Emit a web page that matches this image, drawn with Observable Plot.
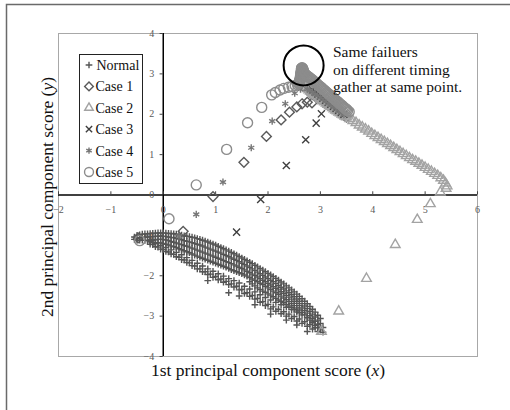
<!DOCTYPE html>
<html>
<head>
<meta charset="utf-8">
<script src="https://cdn.jsdelivr.net/npm/d3@7"></script>
<script src="https://cdn.jsdelivr.net/npm/@observablehq/plot@0.6"></script>
<style>
  html, body { margin: 0; padding: 0; background: #fff; }
  #wrap { position: relative; width: 510px; height: 410px; overflow: hidden; background: #fff; }
  #wrap > svg { position: absolute; left: 0; top: 0; }
  #overlay { pointer-events: none; }
</style>
</head>
<body>
<div id="wrap"></div>
<script>
// ---------------- data ----------------
const seriesNames = ["Normal", "Case 1", "Case 2", "Case 3", "Case 4", "Case 5"];
const xTicks = [-2, -1, 0, 1, 2, 3, 4, 5, 6];
const yTicks = [-4, -3, -2, -1, 0, 1, 2, 3, 4];
const xTitle = "1st principal component score (";
const yTitle = "2nd principal component score (";
const noteText = "Same failuers\non different timing\ngather at same point.";

const normalUpper = [
  [-0.55, -1.04, -1.1],
  [-0.5, -1.0, -1.07, -1.12],
  [-0.45, -0.99, -1.06, -1.12],
  [-0.4, -0.97, -1.05, -1.12],
  [-0.35, -0.965, -1.045, -1.125],
  [-0.3, -0.96, -1.04, -1.13],
  [-0.25, -0.955, -1.035, -1.11, -1.16],
  [-0.2, -0.95, -1.03, -1.12, -1.18],
  [-0.15, -0.945, -1.025, -1.11, -1.18],
  [-0.1, -0.94, -1.02, -1.1, -1.18],
  [-0.05, -0.94, -1.02, -1.1, -1.19],
  [0.0, -0.94, -1.02, -1.1, -1.2],
  [0.05, -0.945, -1.03, -1.115, -1.22],
  [0.1, -0.95, -1.04, -1.13, -1.24],
  [0.15, -0.955, -1.05, -1.15, -1.26],
  [0.2, -0.96, -1.06, -1.17, -1.28],
  [0.25, -0.97, -1.075, -1.19, -1.3],
  [0.3, -0.98, -1.09, -1.21, -1.33],
  [0.35, -0.995, -1.11, -1.23, -1.355],
  [0.4, -1.01, -1.13, -1.25, -1.38],
  [0.45, -1.02, -1.145, -1.27, -1.405],
  [0.5, -1.03, -1.16, -1.29, -1.43],
  [0.55, -1.045, -1.18, -1.315, -1.46],
  [0.6, -1.06, -1.2, -1.34, -1.49],
  [0.65, -1.08, -1.22, -1.365, -1.515],
  [0.7, -1.1, -1.24, -1.39, -1.54],
  [0.75, -1.12, -1.265, -1.415, -1.565],
  [0.8, -1.14, -1.29, -1.44, -1.59],
  [0.85, -1.165, -1.315, -1.465, -1.615],
  [0.9, -1.19, -1.34, -1.49, -1.64],
  [0.95, -1.215, -1.365, -1.515, -1.665],
  [1.0, -1.24, -1.39, -1.54, -1.69],
  [1.05, -1.27, -1.415, -1.565, -1.715],
  [1.1, -1.3, -1.44, -1.59, -1.74],
  [1.15, -1.33, -1.47, -1.62, -1.765],
  [1.2, -1.36, -1.5, -1.65, -1.79],
  [1.25, -1.39, -1.53, -1.675, -1.82],
  [1.3, -1.42, -1.56, -1.7, -1.85],
  [1.35, -1.455, -1.59, -1.73, -1.875],
  [1.4, -1.49, -1.62, -1.76, -1.9],
  [1.45, -1.525, -1.655, -1.79, -1.925],
  [1.5, -1.56, -1.69, -1.82, -1.95],
  [1.55, -1.595, -1.725, -1.855, -1.98],
  [1.6, -1.63, -1.76, -1.89, -2.01],
  [1.65, -1.665, -1.795, -1.925, -2.045, -2.15],
  [1.7, -1.7, -1.83, -1.96, -2.08, -2.2],
  [1.75, -1.74, -1.87, -1.995, -2.115, -2.25],
  [1.8, -1.78, -1.91, -2.03, -2.15, -2.3],
  [1.85, -1.82, -1.95, -2.07, -2.185, -2.34],
  [1.9, -1.86, -1.99, -2.11, -2.22, -2.38],
  [1.95, -1.9, -2.03, -2.15, -2.26, -2.41],
  [2.0, -1.94, -2.07, -2.19, -2.3, -2.45],
  [2.05, -1.98, -2.11, -2.23, -2.34, -2.48],
  [2.1, -2.02, -2.15, -2.27, -2.38, -2.52],
  [2.15, -2.065, -2.195, -2.31, -2.42, -2.56],
  [2.2, -2.11, -2.24, -2.35, -2.46, -2.6],
  [2.25, -2.155, -2.285, -2.395, -2.505, -2.63],
  [2.3, -2.2, -2.33, -2.44, -2.55, -2.67],
  [2.35, -2.25, -2.375, -2.485, -2.595, -2.71],
  [2.4, -2.3, -2.42, -2.53, -2.64, -2.75],
  [2.45, -2.35, -2.47, -2.58, -2.69, -2.79],
  [2.5, -2.4, -2.52, -2.63, -2.74, -2.83],
  [2.55, -2.455, -2.575, -2.685, -2.795, -2.87],
  [2.6, -2.51, -2.63, -2.74, -2.85, -2.92],
  [2.65, -2.57, -2.69, -2.8, -2.91],
  [2.7, -2.63, -2.75, -2.86, -2.97],
  [2.75, -2.695, -2.815, -2.925, -3.035],
  [2.8, -2.76, -2.88, -2.99, -3.1],
  [2.85, -2.83, -2.95, -3.06, -3.165],
  [2.9, -2.9, -3.02, -3.13, -3.23],
  [2.95, -2.98, -3.1, -3.205, -3.29],
  [3.0, -3.06, -3.18, -3.28]
];
const normalLower = [
  [-0.25, -1.15, -1.22],
  [-0.2, -1.23],
  [-0.15, -1.2, -1.28],
  [-0.1, -1.29],
  [-0.05, -1.25, -1.34],
  [0.0, -1.35],
  [0.05, -1.3, -1.4],
  [0.1, -1.41],
  [0.15, -1.36, -1.46],
  [0.2, -1.47],
  [0.25, -1.42, -1.53],
  [0.3, -1.54],
  [0.35, -1.48, -1.6],
  [0.4, -1.61],
  [0.45, -1.55, -1.67],
  [0.5, -1.68],
  [0.55, -1.62, -1.75],
  [0.6, -1.76],
  [0.65, -1.69, -1.83],
  [0.7, -1.83],
  [0.75, -1.76, -1.9],
  [0.8, -1.9],
  [0.85, -1.83, -1.97, -2.12],
  [0.9, -1.96],
  [0.95, -1.89, -2.04],
  [1.0, -2.02],
  [1.05, -1.95, -2.1],
  [1.1, -2.08],
  [1.15, -2.01, -2.16],
  [1.2, -2.14],
  [1.25, -2.07, -2.22, -2.42],
  [1.3, -2.2],
  [1.35, -2.12, -2.28],
  [1.4, -2.26],
  [1.45, -2.18, -2.35, -2.5],
  [1.5, -2.34],
  [1.55, -2.26, -2.44],
  [1.6, -2.42],
  [1.65, -2.33, -2.51],
  [1.7, -2.49],
  [1.75, -2.4, -2.58, -2.72],
  [1.8, -2.56],
  [1.85, -2.47, -2.66],
  [1.9, -2.64],
  [1.95, -2.54, -2.74],
  [2.0, -2.71],
  [2.05, -2.6, -2.82, -2.95],
  [2.1, -2.77],
  [2.15, -2.66, -2.88],
  [2.2, -2.83],
  [2.25, -2.72, -2.94],
  [2.3, -2.89],
  [2.35, -2.78, -3.0, -3.1],
  [2.4, -2.95],
  [2.45, -2.84, -3.06],
  [2.5, -3.01],
  [2.55, -2.9, -3.12, -3.22],
  [2.6, -3.07],
  [2.65, -2.97, -3.18],
  [2.7, -3.14],
  [2.75, -3.04, -3.25, -3.38],
  [2.8, -3.21],
  [2.85, -3.12, -3.32],
  [2.9, -3.28],
  [2.95, -3.2, -3.38],
  [3.0, -3.34],
  [3.05, -3.28, -3.4]
];
const case1 = [
  [-0.48, -1.06], [0.38, -0.9], [0.95, -0.04], [1.54, 0.81], [1.97, 1.45], [2.25, 1.86], [2.41, 2.05],
  [2.55, 2.18], [2.65, 2.26], [2.75, 2.3], [2.84, 2.28],
  [2.78, 2.6], [2.8, 2.55], [2.83, 2.52], [2.85, 2.5], [2.88, 2.48], [2.9, 2.46], [2.93, 2.44],
  [2.95, 2.42], [2.98, 2.4], [3.0, 2.38], [3.03, 2.35], [3.05, 2.33], [3.08, 2.31], [3.1, 2.29],
  [3.13, 2.26], [3.15, 2.24], [3.18, 2.22], [3.2, 2.2], [3.23, 2.17], [3.25, 2.15], [3.28, 2.12],
  [3.3, 2.1], [3.33, 2.08], [3.35, 2.06], [3.38, 2.03], [3.4, 2.01], [3.45, 1.97], [3.5, 1.93]
];
const case2 = [
  [2.72, 2.66], [2.75, 2.63], [2.78, 2.6], [2.81, 2.57], [2.84, 2.54], [2.87, 2.51], [2.9, 2.48],
  [2.93, 2.45], [2.96, 2.42], [2.99, 2.39], [3.02, 2.36], [3.05, 2.33], [3.08, 2.3], [3.11, 2.27],
  [3.14, 2.24], [3.17, 2.21], [3.2, 2.19], [3.23, 2.16], [3.26, 2.13], [3.29, 2.1], [3.32, 2.08],
  [3.35, 2.05], [3.38, 2.03], [3.41, 2.0], [3.44, 1.98], [3.47, 1.95], [3.5, 1.93],
  [3.56, 1.89], [3.62, 1.84], [3.68, 1.79], [3.74, 1.73], [3.8, 1.68], [3.86, 1.63], [3.92, 1.58],
  [3.98, 1.52], [4.04, 1.47], [4.1, 1.42], [4.16, 1.37], [4.22, 1.32], [4.28, 1.27], [4.34, 1.22],
  [4.4, 1.17], [4.46, 1.12], [4.52, 1.07], [4.58, 1.02], [4.64, 0.97], [4.7, 0.92], [4.76, 0.87],
  [4.82, 0.83], [4.88, 0.78], [4.94, 0.73], [5.0, 0.68], [5.06, 0.63], [5.12, 0.58], [5.18, 0.53],
  [5.24, 0.48], [5.3, 0.42], [5.35, 0.36], [5.39, 0.29], [5.42, 0.22], [5.4, 0.16],
  [5.29, 0.07], [5.1, -0.22], [4.85, -0.61], [4.43, -1.23], [3.88, -2.07], [3.35, -2.88], [3.02, -3.38]
];
const case3 = [
  [1.4, -0.92], [1.86, -0.11], [2.35, 0.73], [2.72, 1.37], [2.92, 1.78], [3.02, 2.01],
  [2.85, 2.6], [2.9, 2.55], [2.95, 2.5], [3.0, 2.45], [3.05, 2.4], [3.1, 2.35], [3.15, 2.3],
  [3.2, 2.25], [3.25, 2.2], [3.3, 2.15], [3.35, 2.1], [3.4, 2.05], [3.45, 2.0]
];
const case4 = [
  [0.3, -1.02], [0.63, -0.48], [1.14, 0.32], [1.68, 1.17], [2.08, 1.83], [2.33, 2.26], [2.51, 2.52],
  [2.62, 2.62], [2.75, 2.62], [2.8, 2.59], [2.85, 2.55], [2.9, 2.5], [2.95, 2.46], [3.0, 2.42],
  [3.05, 2.37], [3.1, 2.32], [3.15, 2.27], [3.2, 2.23], [3.25, 2.18], [3.3, 2.13], [3.35, 2.08],
  [3.4, 2.04], [3.45, 1.99]
];
const case5 = [
  [-0.45, -1.13], [0.11, -0.59], [0.63, 0.25], [1.21, 1.13], [1.61, 1.79], [1.88, 2.17], [2.07, 2.48],
  [2.14, 2.54], [2.23, 2.6], [2.3, 2.64], [2.39, 2.67], [2.46, 2.69], [2.52, 2.71],
  [2.56, 2.74], [2.58, 2.76], [2.59, 2.78], [2.6, 2.8], [2.6, 2.82], [2.61, 2.84], [2.61, 2.86],
  [2.62, 2.88], [2.62, 2.9], [2.62, 2.92], [2.62, 2.94], [2.63, 2.96], [2.63, 2.98], [2.63, 3.0],
  [2.63, 3.02], [2.63, 3.04], [2.64, 3.06], [2.64, 3.08], [2.64, 3.1], [2.64, 3.11], [2.64, 3.13],
  [2.64, 3.14], [2.65, 3.15], [2.66, 3.14], [2.66, 3.12], [2.67, 3.1], [2.67, 3.08], [2.68, 3.06],
  [2.68, 3.04], [2.69, 3.02], [2.7, 3.0], [2.72, 2.98], [2.74, 2.96], [2.76, 2.94], [2.78, 2.92],
  [2.8, 2.9], [2.82, 2.88], [2.84, 2.86], [2.86, 2.84], [2.88, 2.81], [2.9, 2.79], [2.92, 2.77],
  [2.94, 2.75], [2.96, 2.72], [2.98, 2.7], [3.0, 2.68], [3.02, 2.66], [3.04, 2.63], [3.06, 2.61],
  [3.08, 2.59], [3.1, 2.57], [3.12, 2.54], [3.14, 2.52], [3.16, 2.5], [3.18, 2.48], [3.2, 2.45],
  [3.22, 2.43], [3.24, 2.41], [3.26, 2.39], [3.28, 2.36], [3.3, 2.34], [3.32, 2.32], [3.34, 2.3],
  [3.36, 2.27], [3.38, 2.25], [3.4, 2.23], [3.42, 2.21], [3.44, 2.18], [3.46, 2.16], [3.48, 2.14],
  [3.5, 2.12], [3.52, 2.09], [3.55, 2.06]
];
const note = {x: 2.68, y: 3.21, tx: 3.24, ty: 3.72};

// ---------------- styles ----------------
const styles = {
  "Normal": {symbol: "plus", r: 2.3, stroke: "#555555", sw: 1.4, d3s: d3.symbolPlus},
  "Case 1": {symbol: "diamond2", r: 4.4, stroke: "#5a5a5a", sw: 1.4, d3s: d3.symbolDiamond2},
  "Case 2": {symbol: "triangle2", r: 4.6, stroke: "#a3a3a3", sw: 1.4, d3s: d3.symbolTriangle2},
  "Case 3": {symbol: "times", r: 3.3, stroke: "#3f3f3f", sw: 1.4, d3s: d3.symbolTimes},
  "Case 4": {symbol: "asterisk", r: 3.3, stroke: "#777777", sw: 1.4, d3s: d3.symbolAsterisk},
  "Case 5": {symbol: "circle", r: 5, stroke: "#8c8c8c", sw: 1.4, d3s: d3.symbolCircle}
};

const normal = [...normalUpper, ...normalLower].flatMap(([x, ...ys]) => ys.map(y => [x, y]));
const seriesData = [normal, case1, case2, case3, case4, case5];
const fmt = d => (d < 0 ? "\u2212" + (-d) : String(d));
const font = "'Liberation Serif', 'Times New Roman', serif";

const dotMarks = seriesNames.map((name, i) => {
  const s = styles[name];
  return Plot.dot(seriesData[i], {
    x: d => d[0], y: d => d[1], symbol: s.symbol, r: s.r,
    fill: "none", stroke: s.stroke, strokeWidth: s.sw
  });
});

const chart = Plot.plot({
  width: 510, height: 410,
  marginLeft: 58, marginRight: 33, marginTop: 33, marginBottom: 54,
  x: {domain: [-2, 6], axis: null},
  y: {domain: [-4, 4], axis: null},
  style: {background: "transparent", fontFamily: font},
  marks: [
    Plot.frame({stroke: "#a8a8a8", strokeWidth: 1}),
    Plot.ruleX([0], {stroke: "#000", strokeWidth: 1.5}),
    Plot.ruleY([0], {stroke: "#000", strokeWidth: 1.5}),
    Plot.ruleX(xTicks, {y1: 0, y2: 0.08, stroke: "#444", strokeWidth: 1}),
    Plot.ruleY(yTicks, {x1: -0.06, x2: 0, stroke: "#444", strokeWidth: 1}),
    Plot.text(xTicks, {x: d => d, y: 0, text: fmt, dy: 15, fill: "#595959", fontSize: 10, fontFamily: font}),
    Plot.text(yTicks, {x: 0, y: d => d, text: fmt, dx: -9, textAnchor: "end", fill: "#595959", fontSize: 10, fontFamily: font}),
    ...dotMarks,
    Plot.dot([note], {x: "x", y: "y", r: 20, stroke: "#000", strokeWidth: 2, fill: "none"}),
    Plot.text([note], {x: "tx", y: "ty", text: () => noteText, textAnchor: "start", lineAnchor: "top",
      lineHeight: 1.13, fontSize: 15.5, fill: "#111", fontFamily: font})
  ]
});

const wrap = document.getElementById("wrap");
wrap.appendChild(chart);

// ---------------- overlay: outer frame, axis titles, legend ----------------
const ov = d3.select(wrap).append("svg").attr("id", "overlay")
  .attr("width", 510).attr("height", 410)
  .style("font-family", font);

ov.append("path").attr("d", "M6.5,420V4.5H520").attr("fill", "none")
  .attr("stroke", "#6a6a6a").attr("stroke-width", 1.5);

const xt = ov.append("text").attr("x", 268).attr("y", 376).attr("text-anchor", "middle")
  .attr("font-size", 17.5).attr("fill", "#111");
xt.append("tspan").text(xTitle);
xt.append("tspan").attr("font-style", "italic").text("x");
xt.append("tspan").text(")");

const yt = ov.append("text").attr("transform", "translate(53,197) rotate(-90)")
  .attr("text-anchor", "middle").attr("font-size", 17.5).attr("fill", "#111");
yt.append("tspan").text(yTitle);
yt.append("tspan").attr("font-style", "italic").text("y");
yt.append("tspan").text(")");

const lg = ov.append("g");
lg.append("rect").attr("x", 79.5).attr("y", 54.5).attr("width", 63).attr("height", 129)
  .attr("fill", "#fff").attr("stroke", "#222").attr("stroke-width", 1);
seriesNames.forEach((name, i) => {
  const s = styles[name];
  const cy = 65 + i * 21.4;
  lg.append("path")
    .attr("d", d3.symbol(s.d3s, Math.PI * s.r * s.r * (i === 0 ? 1 : 0.8))())
    .attr("transform", `translate(89,${cy})`)
    .attr("fill", "none").attr("stroke", s.stroke).attr("stroke-width", s.sw);
  lg.append("text").attr("x", i === 0 ? 96.5 : 95.5).attr("y", cy + 5)
    .attr("font-size", 14).attr("fill", "#111").text(name);
});
</script>
</body>
</html>
